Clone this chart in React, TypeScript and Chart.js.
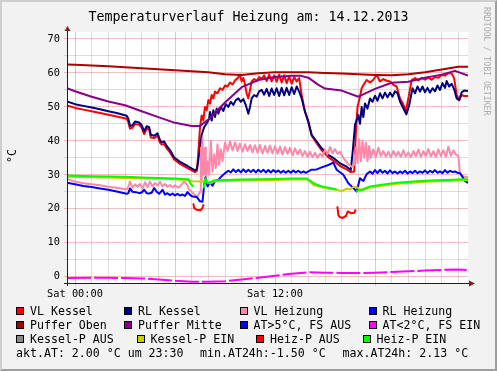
import React, { useEffect, useRef } from "react";
import { Chart, registerables } from "chart.js";

Chart.register(...registerables);

const FONT = '"DejaVu Sans Mono", "Liberation Mono", monospace';

// ---- axes (hours of Sat 14.12.2013, temperature in °C) ----
const xMin = -0.48;
const xMax = 23.58;
const yMin = -1.85;
const yMax = 72.05;
const xLabelHours = [0, 12];
const xLabelTexts = ["Sat 00:00", "Sat 12:00"];
const yLabelStep = 10;

type Pt = [number, number | null];

// ---- series: [hour, °C] ----
const vlKessel: Pt[] = [
  [-0.48, 50.4], [0, 49.7], [0.5, 49.2], [1, 48.7], [1.5, 48.2], [2, 47.7], [2.5, 47.2], [3.1, 46.5],
  [3.2, 45.5], [3.3, 43.6], [3.45, 43.9], [3.6, 45.0], [3.85, 44.7], [4.0, 43.9], [4.15, 42.0], [4.3, 43.6],
  [4.45, 43.3], [4.55, 41.0], [4.75, 40.8], [4.95, 41.5], [5.1, 39.5], [5.2, 38.9], [5.35, 39.1], [5.5, 37.8],
  [5.7, 36.6], [5.95, 34.5], [6.3, 33.2], [6.75, 32.0], [7.2, 30.8], [7.32, 31.2], [7.42, 38], [7.5, 44],
  [7.6, 47.5], [7.7, 46], [7.8, 50], [7.9, 49], [8.0, 52], [8.1, 51], [8.2, 53.5], [8.3, 52.5], [8.4, 54.5],
  [8.55, 54], [8.7, 55.5], [8.85, 55], [9.0, 56.3], [9.15, 56], [9.3, 57.2], [9.45, 56.6], [9.6, 57.8],
  [9.75, 58.4], [9.9, 59.5], [10.0, 57.5], [10.1, 58.5], [10.2, 56.5], [10.3, 54], [10.4, 52.5], [10.5, 55],
  [10.6, 57.5], [10.75, 58.2], [10.9, 57.6], [11.05, 58.8], [11.2, 58.2], [11.35, 59.3], [11.5, 57.6],
  [11.65, 59.5], [11.8, 57.5], [11.95, 59.3], [12.1, 57.4], [12.25, 59.5], [12.4, 57.2], [12.55, 59.3],
  [12.7, 57.0], [12.85, 59.0], [13.0, 56.8], [13.15, 58.8], [13.3, 57.5], [13.45, 58.5], [13.6, 53.5],
  [13.8, 48.6], [14.0, 45.5], [14.2, 41.5], [14.5, 39.3], [14.8, 37.2], [15.2, 35.2], [15.6, 33.8],
  [15.9, 32.6], [16.3, 31.6], [16.55, 30.8], [16.75, 31], [16.85, 42], [16.95, 50], [17.1, 53], [17.2, 55.5],
  [17.35, 56.8], [17.5, 57.9], [17.7, 57.2], [17.9, 58], [18.1, 59.4], [18.3, 57.5], [18.5, 58.2],
  [18.7, 57.7], [18.9, 57.5], [19.1, 56.5], [19.3, 56], [19.5, 52.5], [19.7, 50.7], [19.85, 48.8],
  [20.0, 52.5], [20.2, 57.9], [20.4, 58.5], [20.6, 57.8], [20.8, 58.6], [21.0, 58], [21.2, 58.6], [21.4, 58],
  [21.6, 58.8], [21.8, 58.6], [22.0, 59.4], [22.2, 59.2], [22.4, 60], [22.6, 59.8], [22.75, 58.4],
  [22.9, 53.5], [23.05, 52], [23.2, 53.5], [23.35, 53.2], [23.58, 53.2],
];

const rlKessel: Pt[] = [
  [-0.48, 51.6], [0, 50.8], [0.5, 50.3], [1, 49.8], [1.5, 49.3], [2, 48.7], [2.5, 48.2], [3.1, 47.4],
  [3.2, 46.5], [3.3, 44.4], [3.45, 44.6], [3.6, 45.7], [3.85, 45.4], [4.0, 44.6], [4.15, 42.8], [4.3, 44.3],
  [4.45, 44.0], [4.55, 41.8], [4.75, 41.5], [4.95, 42.2], [5.1, 40.2], [5.2, 39.6], [5.35, 39.8], [5.5, 38.5],
  [5.7, 37.3], [5.95, 35.1], [6.3, 33.8], [6.75, 32.6], [7.2, 31.3], [7.32, 31.8], [7.45, 36], [7.6, 41.8],
  [7.75, 44], [7.9, 45.2], [8.05, 46.5], [8.1, 48.5], [8.2, 46], [8.3, 49], [8.4, 47], [8.5, 49.5], [8.6, 48],
  [8.75, 50], [8.9, 48.8], [9.05, 50.8], [9.2, 50], [9.35, 51.5], [9.5, 50.6], [9.65, 52], [9.8, 52.5],
  [9.95, 51.5], [10.1, 52.3], [10.25, 50.5], [10.4, 48], [10.5, 50], [10.6, 52.5], [10.75, 53.5], [10.9, 53.0],
  [11.05, 54.6], [11.2, 55], [11.35, 53.6], [11.5, 55.3], [11.65, 53.2], [11.8, 55.4], [11.95, 53.5],
  [12.1, 55.5], [12.25, 53.2], [12.4, 55.6], [12.55, 53.4], [12.7, 55.6], [12.85, 53.5], [13.0, 55.8],
  [13.15, 53.8], [13.3, 56], [13.45, 54.5], [13.6, 52.5], [13.8, 48.6], [14.0, 45.7], [14.2, 41.8],
  [14.5, 39.8], [14.8, 37.8], [15.2, 35.9], [15.6, 34.6], [15.9, 33.4], [16.3, 32.4], [16.55, 31.4],
  [16.68, 37.8], [16.8, 44.7], [17.0, 47.6], [17.1, 45], [17.2, 50], [17.3, 47], [17.4, 51], [17.55, 49.5],
  [17.7, 52.5], [17.85, 51.5], [18.0, 53.3], [18.15, 51.8], [18.3, 54], [18.45, 52.5], [18.6, 54.2],
  [18.75, 52.8], [18.9, 54.2], [19.05, 53], [19.2, 54.6], [19.35, 54], [19.5, 51.6], [19.7, 49.6],
  [19.88, 47.8], [20.05, 50.5], [20.25, 55.5], [20.4, 54], [20.55, 56], [20.7, 54.5], [20.85, 56],
  [21.0, 54.3], [21.15, 55.6], [21.3, 54.2], [21.45, 55.5], [21.6, 54.6], [21.75, 56.3], [21.9, 55],
  [22.05, 57], [22.2, 55.6], [22.3, 57.6], [22.45, 56], [22.6, 56.8], [22.75, 55.2], [22.9, 52.5],
  [23.05, 52], [23.2, 54.3], [23.35, 54.8], [23.58, 54.7],
];

const vlHeizung: Pt[] = [
  [-0.48, 28.8], [0, 28.0], [0.5, 27.5], [1, 27.2], [1.5, 26.9], [2, 26.5], [2.5, 26.2], [3.1, 25.7],
  [3.2, 26.5], [3.3, 28.0], [3.45, 26.2], [3.6, 27.2], [3.75, 26.5], [3.9, 27.3], [4.05, 26.0], [4.2, 27.8],
  [4.35, 26.4], [4.5, 28.0], [4.65, 26.6], [4.8, 27.6], [4.95, 26.8], [5.1, 27.9], [5.25, 26.6], [5.4, 27.3],
  [5.55, 26.5], [5.7, 27.0], [5.85, 26.3], [6.0, 26.9], [6.2, 26.2], [6.4, 27.2], [6.55, 28.0], [6.7, 27.4],
  [6.85, 25.6], [7.0, 25.0], [7.15, 24.2], [7.35, 23.6], [7.5, 25], [7.55, 38], [7.6, 28], [7.65, 40.8],
  [7.7, 30], [7.8, 38], [7.85, 27.5], [7.95, 34], [8.05, 30], [8.15, 40], [8.25, 31], [8.35, 36], [8.45, 32],
  [8.55, 39], [8.65, 33], [8.75, 37.5], [8.85, 34], [9.0, 39.5], [9.15, 37], [9.3, 39.8], [9.45, 37.2],
  [9.6, 39.6], [9.75, 37], [9.9, 39.2], [10.05, 36.8], [10.2, 39.0], [10.35, 37.0], [10.5, 38.8],
  [10.65, 36.6], [10.8, 38.7], [10.95, 36.5], [11.1, 38.8], [11.25, 36.3], [11.4, 38.5], [11.55, 36.5],
  [11.7, 38.6], [11.85, 36.3], [12.0, 38.4], [12.15, 36.2], [12.3, 38.3], [12.45, 36.0], [12.6, 38.2],
  [12.75, 36.2], [12.9, 38.0], [13.05, 35.8], [13.2, 37.8], [13.35, 36.0], [13.5, 37.4], [13.65, 35.5],
  [13.8, 37.0], [13.95, 35.3], [14.1, 36.8], [14.25, 35.2], [14.4, 36.5], [14.55, 35.0], [14.7, 36.2],
  [14.85, 35.4], [15.0, 37.5], [15.15, 36.0], [15.3, 38.2], [15.45, 36.3], [15.6, 37.6], [15.75, 36.2],
  [15.9, 36.8], [16.1, 35.0], [16.4, 33.1], [16.6, 32.4], [16.75, 33], [16.85, 38], [16.95, 33.5],
  [17.05, 40.5], [17.15, 34], [17.25, 40.0], [17.35, 35], [17.45, 39.5], [17.55, 34], [17.65, 38.5],
  [17.75, 35], [17.9, 37.5], [18.05, 35.2], [18.2, 38.0], [18.35, 35.5], [18.5, 37.0], [18.65, 35.4],
  [18.8, 36.8], [18.95, 35.2], [19.1, 37.0], [19.25, 35.5], [19.4, 36.8], [19.55, 35.3], [19.7, 37.2],
  [19.85, 35.4], [20.0, 36.6], [20.15, 35.2], [20.3, 37.0], [20.45, 35.5], [20.6, 37.4], [20.75, 35.3],
  [20.9, 37.0], [21.05, 35.5], [21.2, 37.6], [21.35, 35.4], [21.5, 37.0], [21.65, 35.2], [21.8, 37.5],
  [21.95, 35.5], [22.1, 37.2], [22.25, 35.3], [22.4, 38.3], [22.55, 35.6], [22.7, 37.2], [22.85, 36],
  [23.0, 35.5], [23.1, 30.5], [23.3, 29.5], [23.58, 29.3],
];

const rlHeizung: Pt[] = [
  [-0.48, 27.7], [0, 27.2], [0.5, 26.7], [1, 26.4], [1.5, 26.0], [2, 25.6], [2.5, 25.1], [3.1, 24.4],
  [3.2, 24.6], [3.3, 26.0], [3.45, 25.0], [3.65, 24.9], [3.85, 24.6], [4.0, 24.8], [4.15, 25.6], [4.3, 24.6],
  [4.45, 24.5], [4.6, 24.7], [4.75, 26.1], [4.9, 25.0], [5.05, 24.4], [5.25, 25.6], [5.4, 24.2], [5.55, 24.6],
  [5.7, 24.0], [5.85, 24.5], [6.0, 23.9], [6.15, 24.4], [6.3, 23.9], [6.45, 24.2], [6.6, 23.8], [6.75, 24.9],
  [6.9, 24.1], [7.05, 23.6], [7.3, 23.5], [7.5, 22.2], [7.65, 22.1], [7.75, 27], [7.82, 29.2], [7.95, 26.6],
  [8.1, 27.8], [8.25, 26.8], [8.4, 28.2], [8.6, 28.5], [8.8, 29.6], [9.0, 30.5], [9.2, 31.2], [9.35, 30.7],
  [9.5, 31.6], [9.65, 30.8], [9.8, 31.5], [9.95, 30.7], [10.1, 31.6], [10.25, 30.8], [10.4, 31.5],
  [10.55, 30.8], [10.7, 31.5], [10.85, 30.7], [11.0, 31.5], [11.15, 30.8], [11.3, 31.5], [11.45, 30.7],
  [11.6, 31.4], [11.75, 30.7], [11.9, 31.4], [12.05, 30.8], [12.2, 31.3], [12.35, 30.6], [12.5, 31.2],
  [12.65, 30.6], [12.8, 31.2], [12.95, 30.6], [13.1, 31.3], [13.25, 30.7], [13.4, 31.2], [13.55, 30.6],
  [13.7, 31.0], [13.85, 30.6], [14.0, 31.0], [14.2, 31.5], [14.5, 31.6], [14.8, 32.2], [15.2, 32.9],
  [15.5, 33.6], [15.7, 31.5], [16.1, 30.0], [16.4, 27.5], [16.6, 26.6], [16.9, 25.1], [17.1, 29.0],
  [17.3, 28.2], [17.5, 30.2], [17.7, 31.0], [17.85, 30.3], [18.0, 31.4], [18.15, 30.5], [18.3, 31.5],
  [18.45, 30.6], [18.6, 31.2], [18.75, 30.4], [18.9, 31.3], [19.05, 30.5], [19.2, 31.0], [19.35, 30.4],
  [19.5, 31.0], [19.65, 30.5], [19.8, 31.2], [19.95, 30.4], [20.1, 31.0], [20.25, 30.5], [20.4, 31.2],
  [20.55, 30.5], [20.7, 31.0], [20.85, 30.6], [21.0, 31.3], [21.15, 30.5], [21.3, 31.2], [21.45, 30.7],
  [21.6, 31.4], [21.75, 30.6], [21.9, 31.0], [22.05, 30.5], [22.2, 31.4], [22.35, 30.6], [22.5, 31.2],
  [22.65, 30.8], [22.8, 31.0], [22.95, 30.6], [23.1, 30.5], [23.3, 29.0], [23.4, 28.2], [23.58, 27.6],
];

const pufferOben: Pt[] = [
  [-0.48, 62.5], [0, 62.4], [1, 62.2], [2, 62.0], [3, 61.7], [4, 61.4], [5, 61.1], [6, 60.8], [7, 60.5],
  [8, 60.2], [9, 59.6], [10, 59.4], [11, 59.9], [12, 60.2], [13, 60.2], [14, 60.2], [15, 60.0], [16, 59.8],
  [17, 59.6], [18, 59.4], [19, 59.3], [20, 59.6], [21, 60.2], [22, 61.0], [23, 61.8], [23.58, 61.8],
];

const pufferMitte: Pt[] = [
  [-0.48, 55.5], [0, 54.6], [1, 53.0], [2, 51.6], [3, 50.5], [4, 48.7], [5, 47.0], [6, 45.3], [7, 44.4],
  [7.5, 44.4], [8, 46.3], [9, 51.3], [10, 55.8], [11, 57.9], [12, 58.8], [13, 59.2], [13.5, 59.2], [14, 58.6],
  [14.6, 56.5], [15, 55.4], [16, 54.8], [17, 53.0], [18, 55.3], [19, 57.1], [20, 57.4], [21, 58.6],
  [22, 59.5], [22.8, 60.6], [23.58, 59.2],
];

const atUeber5: Pt[] = [];

const atUnter2: Pt[] = [
  [-0.48, -0.4], [1, -0.3], [2, -0.3], [3, -0.4], [4, -0.5], [5, -0.8], [6, -1.2], [7, -1.45], [8, -1.5],
  [9, -1.3], [10, -0.8], [11, -0.3], [12, 0.3], [13, 0.9], [14, 1.3], [15, 1.2], [16, 1.1], [17, 1.1],
  [18, 1.2], [19, 1.4], [20, 1.6], [21, 1.8], [22, 2.0], [23, 2.1], [23.5, 2.0],
];

const kesselPAus: Pt[] = [];

const kesselPEin: Pt[] = [
  [-0.48, 29.4], [1, 29.3], [2, 29.2], [3, 29.1], [4, 29.0], [5, 28.9], [6, 28.7], [6.8, 28.5], [7.0, 28.1],
  [7.5, 28.0], [7.8, 28.0], [8.1, 27.5], [8.3, 28.0], [9, 28.2], [10, 28.3], [11, 28.4], [12, 28.5],
  [13, 28.6], [13.9, 28.6], [14.1, 28.0], [14.3, 27.0], [14.8, 26.3], [15.3, 25.8], [15.7, 25.6], [16.0, 25.2],
  [16.3, 25.9], [16.5, 25.7], [16.7, 26.4], [16.85, 26.5], [17.2, 25.4], [17.7, 26.3], [18.3, 26.7],
  [19.3, 27.4], [20.3, 27.7], [21.3, 28.0], [22.3, 28.2], [23.3, 28.4], [23.58, 28.4],
];

const heizPAus: Pt[] = [
  [7.1, 21.6], [7.15, 20.2], [7.3, 19.7], [7.55, 19.6], [7.65, 20.3], [7.72, 21.3], [10, null],
  [15.74, 20.7], [15.8, 18.2], [15.88, 17.6], [16.06, 17.3], [16.26, 17.9], [16.36, 19.2], [16.56, 18.7],
  [16.76, 18.8], [16.84, 19.8],
];

const heizPEin: Pt[] = [
  [-0.48, 29.8], [1, 29.6], [2, 29.5], [3, 29.4], [4, 29.2], [5, 29.1], [6, 28.9], [6.8, 28.7], [6.95, 27.2],
  [7.1, 26.6], [7.4, null], [7.72, 26.0], [7.82, 29.0], [7.95, 27.5], [8.1, 27.8], [8.3, 28.3], [9, 28.5],
  [10, 28.6], [11, 28.7], [12, 28.8], [13, 28.9], [13.9, 28.9], [14.1, 28.3], [14.3, 27.5], [14.8, 26.6],
  [15.3, 26.1], [15.7, 25.7], [16.2, null], [16.85, 25.2], [17.2, 25.6], [17.7, 26.6], [18.3, 27.0],
  [19.3, 27.7], [20.3, 28.0], [21.3, 28.3], [22.3, 28.5], [23.3, 28.7], [23.58, 28.7],
];

// ---- legend ----
const legendNames = [
  ["VL Kessel", "RL Kessel", "VL Heizung", "RL Heizung"],
  ["Puffer Oben", "Puffer Mitte", "AT>5°C, FS AUS", "AT<2°C, FS EIN"],
  ["Kessel-P AUS", "Kessel-P EIN", "Heiz-P AUS", "Heiz-P EIN"],
];
const legendColors = [
  ["#ff0000", "#000080", "#ff88aa", "#0000ff"],
  ["#aa0000", "#880088", "#0000ff", "#ff00ff"],
  ["#888888", "#cccc00", "#ff0000", "#00ff00"],
];
const footerTexts = ["akt.AT: 2.00 °C um 23:30", "min.AT24h:-1.50 °C", "max.AT24h: 2.13 °C"];
const titleText = "Temperaturverlauf Heizung am: 14.12.2013";
const yTitle = "°C";
const watermark = "RRDTOOL / TOBI OETIKER";

const seriesList: { data: Pt[]; color: string; dash?: number[] }[] = [
  { data: vlKessel, color: "#ff0000" },
  { data: rlKessel, color: "#000080" },
  { data: vlHeizung, color: "#ff88aa" },
  { data: rlHeizung, color: "#0000ff" },
  { data: pufferOben, color: "#aa0000" },
  { data: pufferMitte, color: "#880088" },
  { data: atUeber5, color: "#0000ff" },
  { data: atUnter2, color: "#ff00ff", dash: [24, 3] },
  { data: kesselPAus, color: "#888888" },
  { data: kesselPEin, color: "#cccc00" },
  { data: heizPAus, color: "#ff0000" },
  { data: heizPEin, color: "#00ff00" },
];

const MAJOR = "rgba(222,79,79,0.36)";
const MINOR = "rgba(143,143,143,0.30)";

// layout constants (pixels)
const W = 497;
const H = 371;
const legendBoxX = [
  [16, 124, 239.5, 368.5],
  [16, 124, 239.5, 368.5],
  [16, 136.5, 256, 362.5],
];
const footerX = [16, 200, 342.5];
const LEG_FS = 11.6;

function Txt(props: { x: number; base: number; size: number; children: React.ReactNode; color?: string }) {
  const { x, base, size, children, color } = props;
  return (
    <div
      style={{
        position: "absolute",
        left: x,
        top: base - 0.846 * size,
        fontSize: size,
        lineHeight: `${size}px`,
        fontFamily: FONT,
        whiteSpace: "pre",
        color: color || "#000",
      }}
    >
      {children}
    </div>
  );
}

export default function App() {
  const ref = useRef<HTMLCanvasElement>(null);

  useEffect(() => {
    const canvas = ref.current;
    if (!canvas) return;

    const plotBg = {
      id: "plotBg",
      beforeDraw(chart: any) {
        const { ctx, chartArea: a } = chart;
        ctx.save();
        ctx.fillStyle = "#ffffff";
        ctx.fillRect(a.left, a.top, a.right - a.left, a.bottom - a.top);
        ctx.restore();
      },
    };

    const rrdAxes = {
      id: "rrdAxes",
      afterDatasetsDraw(chart: any) {
        const { ctx, chartArea: a } = chart;
        ctx.save();
        ctx.strokeStyle = "#1f1f1f";
        ctx.lineWidth = 1;
        ctx.beginPath();
        ctx.moveTo(a.left - 3, a.bottom + 0.5);
        ctx.lineTo(a.right + 1, a.bottom + 0.5);
        ctx.moveTo(a.left + 0.5, a.bottom + 3);
        ctx.lineTo(a.left + 0.5, a.top - 1);
        ctx.stroke();
        ctx.fillStyle = "#801f1f";
        ctx.beginPath();
        ctx.moveTo(a.right + 7, a.bottom + 0.5);
        ctx.lineTo(a.right + 1, a.bottom - 2.5);
        ctx.lineTo(a.right + 1, a.bottom + 3.5);
        ctx.closePath();
        ctx.fill();
        ctx.beginPath();
        ctx.moveTo(a.left + 0.5, a.top - 6);
        ctx.lineTo(a.left - 2.5, a.top - 1);
        ctx.lineTo(a.left + 3.5, a.top - 1);
        ctx.closePath();
        ctx.fill();
        ctx.restore();
      },
    };

    const n = seriesList.length;
    const datasets = seriesList.map((s, i) => ({
      data: s.data.map(([x, y]) => ({ x, y })),
      borderColor: s.color,
      backgroundColor: s.color,
      borderWidth: 2,
      borderDash: s.dash || [],
      pointRadius: 0,
      fill: false,
      tension: 0,
      spanGaps: false,
      borderJoinStyle: "round" as const,
      order: n - i,
    }));

    const chart = new Chart(canvas, {
      type: "line",
      data: { datasets },
      plugins: [plotBg, rrdAxes],
      options: {
        animation: false,
        responsive: false,
        events: [],
        layout: { padding: { left: 0, top: 32, right: W - 468, bottom: 0 } },
        plugins: { legend: { display: false }, tooltip: { enabled: false } },
        scales: {
          x: {
            type: "linear",
            min: xMin,
            max: xMax,
            afterFit: (s: any) => {
              s.height = H - 283;
            },
            border: { display: false },
            grid: {
              color: (c: any) => (c.tick && c.tick.value % 6 === 0 ? MAJOR : MINOR),
              tickColor: (c: any) => (c.tick && c.tick.value % 6 === 0 ? MAJOR : "rgba(0,0,0,0)"),
              tickLength: 3,
              lineWidth: 1,
            },
            ticks: {
              stepSize: 1,
              autoSkip: false,
              maxRotation: 0,
              minRotation: 0,
              includeBounds: false,
              padding: 2,
              color: "#000",
              font: { family: FONT, size: 10.3 },
              callback: (v: any) => {
                const k = xLabelHours.indexOf(Number(v));
                return k >= 0 ? xLabelTexts[k] : "";
              },
            },
          },
          y: {
            type: "linear",
            min: yMin,
            max: yMax,
            afterFit: (s: any) => {
              s.width = 67;
            },
            border: { display: false },
            grid: {
              color: (c: any) => (c.tick && c.tick.value % yLabelStep === 0 ? MAJOR : MINOR),
              tickColor: (c: any) => (c.tick && c.tick.value % yLabelStep === 0 ? MAJOR : MINOR),
              tickLength: 3,
              lineWidth: 1,
            },
            ticks: {
              stepSize: 5,
              includeBounds: false,
              padding: 4,
              color: "#000",
              font: { family: FONT, size: 10.3 },
              callback: (v: any) => (Number(v) % yLabelStep === 0 ? String(v) : ""),
            },
          },
        },
      } as any,
    });
    return () => chart.destroy();
  }, []);

  return (
    <div
      style={{
        position: "absolute",
        left: 0,
        top: 0,
        width: W,
        height: H,
        background: "#f2f2f2",
        overflow: "hidden",
      }}
    >
      <canvas ref={ref} width={W} height={H} style={{ position: "absolute", left: 0, top: 0, width: W, height: H }} />
      <div
        style={{
          position: "absolute",
          left: 0,
          top: 21.3 - 0.846 * 13.3,
          width: W,
          textAlign: "center",
          fontFamily: FONT,
          fontSize: 13.3,
          lineHeight: "13.3px",
          whiteSpace: "pre",
          color: "#000",
        }}
      >
        {titleText}
      </div>
      <div
        style={{
          position: "absolute",
          left: 482.9,
          top: 7,
          writingMode: "vertical-rl",
          fontFamily: FONT,
          fontSize: 8.2,
          lineHeight: "8.2px",
          color: "#adadad",
          whiteSpace: "pre",
        }}
      >
        {watermark}
      </div>
      <div
        style={{
          position: "absolute",
          left: 3.3,
          top: 141,
          width: 20,
          height: 30,
          display: "flex",
          alignItems: "center",
          justifyContent: "center",
          transform: "rotate(180deg)",
        }}
      >
        <div
          style={{
            writingMode: "vertical-rl",
            fontFamily: FONT,
            fontSize: LEG_FS,
            lineHeight: `${LEG_FS}px`,
            color: "#000",
            whiteSpace: "pre",
          }}
        >
          {yTitle}
        </div>
      </div>
      {legendNames.map((row, r) =>
        row.map((name, c) => (
          <React.Fragment key={`${r}-${c}`}>
            <div
              style={{
                position: "absolute",
                left: legendBoxX[r][c],
                top: 307 + 14 * r,
                width: 8,
                height: 8,
                boxSizing: "border-box",
                border: "1px solid #000",
                background: legendColors[r][c],
              }}
            />
            <Txt x={legendBoxX[r][c] + 14} base={315.5 + 14 * r} size={LEG_FS}>
              {name}
            </Txt>
          </React.Fragment>
        ))
      )}
      {footerTexts.map((t, i) => (
        <Txt key={i} x={footerX[i]} base={357.6} size={LEG_FS}>
          {t}
        </Txt>
      ))}
      <div
        style={{
          position: "absolute",
          left: 0,
          top: 0,
          width: W,
          height: H,
          boxSizing: "border-box",
          borderTop: "2px solid #cfcfcf",
          borderLeft: "2px solid #cfcfcf",
          borderBottom: "2px solid #9e9e9e",
          borderRight: "2px solid #9e9e9e",
          pointerEvents: "none",
        }}
      />
    </div>
  );
}
